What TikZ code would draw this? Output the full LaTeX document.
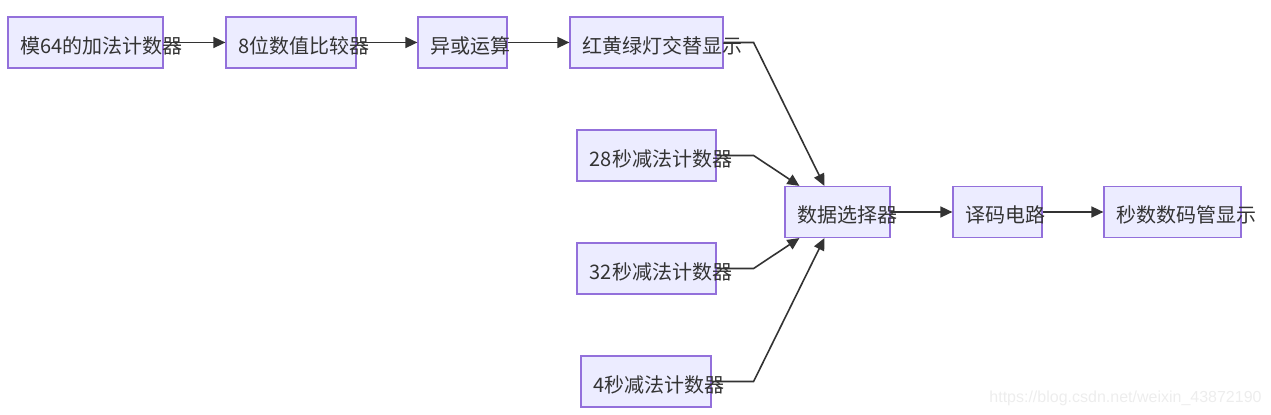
\documentclass[tikz,border=0pt]{standalone}
\usepackage{fontspec}
\setmainfont{Noto Sans CJK SC}
\newfontfamily\wmfont{Liberation Sans}
\usetikzlibrary{arrows.meta}
\definecolor{boxfill}{HTML}{ECECFF}
\definecolor{boxline}{HTML}{9370DB}
\definecolor{linkcol}{HTML}{333333}
\tikzset{
  blk/.style={draw=boxline, fill=boxfill, line width=0.6pt, minimum height=25.5pt, inner sep=0pt},
  lbl/.style={anchor=west, inner sep=0pt, xshift=6.5pt, yshift=-1.5pt, text=linkcol},
  link/.style={draw=linkcol, line width=0.8pt, -{Triangle[length=6pt,width=5.5pt]}}
}
\begin{document}
\begin{tikzpicture}[x=0.5pt, y=-0.5pt, font=\fontsize{10}{12}\selectfont]
  \useasboundingbox (0,0) rectangle (1271,415);
  % top row
  \node[blk, minimum width=77.5pt, label={[lbl]west:模64的加法计数器}] (cnt64) at (85.5,42.5) {};
  \node[blk, minimum width=65pt, label={[lbl]west:8位数值比较器}] (cmp) at (291,42.5) {};
  \node[blk, minimum width=44.5pt, label={[lbl]west:异或运算}] (xor) at (462.5,42.5) {};
  \node[blk, minimum width=76.5pt, label={[lbl]west:红黄绿灯交替显示}] (light) at (646.5,42.5) {};

  % countdown counters
  \node[blk, minimum width=69.5pt, label={[lbl]west:28秒减法计数器}] (cnt28) at (646.5,155.5) {};
  \node[blk, minimum width=69.5pt, label={[lbl]west:32秒减法计数器}] (cnt32) at (646.5,268.5) {};
  \node[blk, minimum width=65pt, label={[lbl]west:4秒减法计数器}] (cnt4) at (646,381.5) {};

  % output chain
  \node[blk, minimum width=52.5pt, label={[lbl]west:数据选择器}] (mux) at (837.5,212) {};
  \node[blk, minimum width=44.5pt, label={[lbl]west:译码电路}] (dec) at (997.5,212) {};
  \node[blk, minimum width=68.5pt, label={[lbl]west:秒数数码管显示}] (disp) at (1172.5,212) {};

  \draw[link] (cnt64) -- (cmp);
  \draw[link] (cmp) -- (xor);
  \draw[link] (xor) -- (light);
  \draw[link] (light.east) -- ++(30,0) -- ([xshift=20pt]mux.north west);
  \draw[link] (cnt28.east) -- ++(37,0) -- ([xshift=7.5pt]mux.north west);
  \draw[link] (cnt32.east) -- ++(37,0) -- ([xshift=7.5pt]mux.south west);
  \draw[link] (cnt4.east) -- ++(42,0) -- ([xshift=20pt]mux.south west);
  \draw[link] (mux) -- (dec);
  \draw[link] (dec) -- (disp);

  \node[anchor=east, inner sep=0pt, text=black!7, font=\wmfont\fontsize{8}{10}\selectfont] (mark) at (1262,398) {https://blog.csdn.net/weixin\_43872190};
\end{tikzpicture}
\end{document}
